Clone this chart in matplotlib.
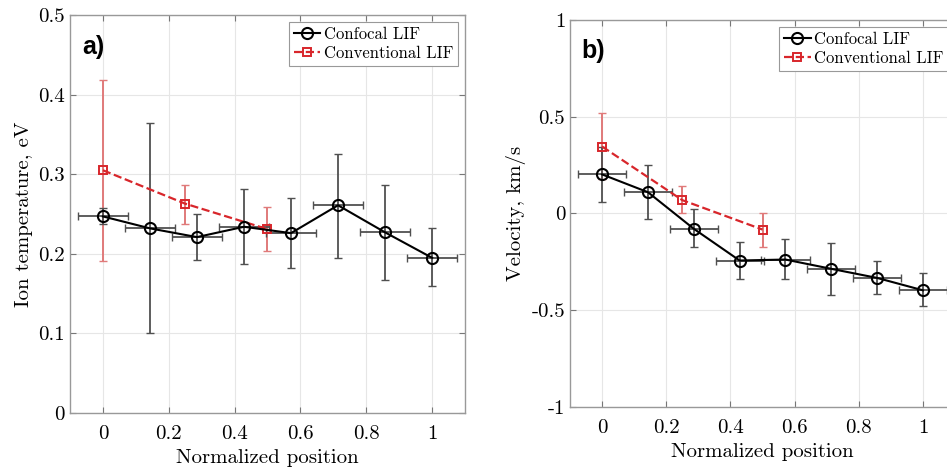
import matplotlib
matplotlib.use("Agg")
import matplotlib.pyplot as plt
import numpy as np

# positions along the channel
conf_x = [0, 1/7, 2/7, 3/7, 4/7, 5/7, 6/7, 1]
conv_x = [0, 0.25, 0.5]
conf_xerr = 0.075

# a) ion temperature (eV): value, top and bottom of error bar
conf_T = [0.247, 0.232, 0.221, 0.234, 0.226, 0.261, 0.227, 0.195]
conf_T_hi = [0.257, 0.364, 0.250, 0.282, 0.270, 0.326, 0.286, 0.233]
conf_T_lo = [0.237, 0.101, 0.192, 0.187, 0.182, 0.195, 0.167, 0.159]
conv_T = [0.305, 0.263, 0.231]
conv_T_hi = [0.418, 0.287, 0.259]
conv_T_lo = [0.191, 0.238, 0.204]

# b) velocity (km/s)
conf_V = [0.202, 0.110, -0.079, -0.243, -0.238, -0.286, -0.333, -0.397]
conf_V_hi = [0.345, 0.250, 0.021, -0.147, -0.131, -0.152, -0.248, -0.310]
conf_V_lo = [0.058, -0.028, -0.174, -0.341, -0.341, -0.419, -0.416, -0.479]
conv_V = [0.346, 0.069, -0.083]
conv_V_hi = [0.517, 0.140, 0.003]
conv_V_lo = [0.176, 0.003, -0.172]

x_ticks = [0, 0.2, 0.4, 0.6, 0.8, 1]
x_labels = ["0", "0.2", "0.4", "0.6", "0.8", "1"]
T_ticks = [0, 0.1, 0.2, 0.3, 0.4, 0.5]
T_labels = ["0", "0.1", "0.2", "0.3", "0.4", "0.5"]
V_ticks = [-1, -0.5, 0, 0.5, 1]
V_labels = ["-1", "-0.5", "0", "0.5", "1"]

plt.rcParams["font.family"] = ["cmr10", "DejaVu Serif"]
plt.rcParams["axes.unicode_minus"] = False

RED = "#d8262b"

fig = plt.figure(figsize=(9.47, 4.67), dpi=100)
ax_a = fig.add_axes([0.0739, 0.1156, 0.4171, 0.8522])
ax_b = fig.add_axes([0.6019, 0.1285, 0.4066, 0.8287])


def panel(ax, cy, chi, clo, vy, vhi, vlo, ylim, yt, ylab, ylabel, tag):
    cy, chi, clo = map(np.array, (cy, chi, clo))
    vy, vhi, vlo = map(np.array, (vy, vhi, vlo))
    ax.errorbar(conv_x, vy, yerr=[vy - vlo, vhi - vy], fmt="none",
                ecolor="#e07a7a", elinewidth=1.4, capsize=3, zorder=2)
    ax.errorbar(conf_x, cy, yerr=[cy - clo, chi - cy], xerr=conf_xerr,
                fmt="none", ecolor="#505050", elinewidth=1.3, capsize=3, zorder=3)
    ax.plot(conv_x, vy, "--s", color=RED, lw=1.6, ms=6, mfc="none",
            mew=1.4, label="Conventional LIF", zorder=4)
    ax.plot(conf_x, cy, "-o", color="black", lw=1.5, ms=8, mfc="none",
            mew=1.5, label="Confocal LIF", zorder=5)
    ax.set_xlim(-0.1, 1.1)
    ax.set_ylim(*ylim)
    ax.set_xticks(x_ticks)
    ax.set_xticklabels(x_labels)
    ax.set_yticks(yt)
    ax.set_yticklabels(ylab)
    ax.tick_params(direction="in", top=True, right=True, labelsize=15,
                   length=4, color="#777777")
    ax.tick_params(axis="x", pad=9)
    ax.grid(True, color="#e6e6e6", lw=0.8)
    ax.set_axisbelow(True)
    for s in ax.spines.values():
        s.set_color("#999999")
        s.set_linewidth(1.0)
    ax.set_xlabel("Normalized position", fontsize=15, labelpad=4)
    ax.set_ylabel(ylabel, fontsize=15, labelpad=4)
    h, l = ax.get_legend_handles_labels()
    leg = ax.legend(h[::-1], l[::-1], loc="upper right", fontsize=12,
                    fancybox=False, framealpha=1, edgecolor="#999999",
                    borderpad=0.3, handlelength=1.6, handletextpad=0.2,
                    labelspacing=0.2, borderaxespad=0.4)
    leg.get_frame().set_linewidth(0.8)
    ax.text(0.03, 0.95, tag, transform=ax.transAxes, fontsize=18,
            fontweight="bold", family="Liberation Sans", va="top", ha="left")


panel(ax_a, conf_T, conf_T_hi, conf_T_lo, conv_T, conv_T_hi, conv_T_lo,
      (0, 0.5), T_ticks, T_labels, "Ion temperature, eV", "a)")
panel(ax_b, conf_V, conf_V_hi, conf_V_lo, conv_V, conv_V_hi, conv_V_lo,
      (-1, 1), V_ticks, V_labels, "Velocity, km/s", "b)")

fig.savefig("out.png", dpi=100)
